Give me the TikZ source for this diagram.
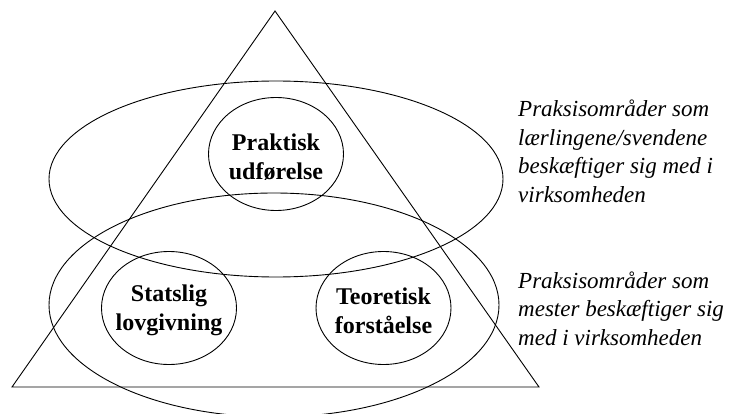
\documentclass[tikz,border=0pt]{standalone}
\usepackage{fontspec}
\setmainfont{Liberation Serif}
\usetikzlibrary{shapes.geometric}
\tikzset{
  outline/.style={draw=black, line width=0.9pt},
  bubble/.style={ellipse, draw=black, line width=0.9pt, inner sep=0pt,
    minimum width=135pt, minimum height=113pt},
  bubbletext/.style={align=center, inner sep=0pt,
    font=\fontsize{24}{29}\selectfont\bfseries},
  sidetext/.style={anchor=base west, align=left, inner sep=0pt,
    font=\fontsize{23}{28.5}\selectfont\itshape}
}
\begin{document}
\begin{tikzpicture}[x=1pt,y=-1pt]
\useasboundingbox (0,0) rectangle (733,414);
% triangle
\coordinate (apex) at (275,11);
\coordinate (bl) at (12,387);
\coordinate (br) at (539,387);
\draw[outline, line join=miter] (apex) -- (bl) -- (br) -- cycle;
% large ellipses
\draw[outline] (276,179) ellipse [x radius=227, y radius=98];
\begin{scope}
\clip (0,0) rectangle (733,414);
\draw[outline] (274,305) ellipse [x radius=225, y radius=112];
\end{scope}
% circles with labels
\node[bubble] (prak) at (276,154) {};
\node[bubble] (stat) at (169,308) {};
\node[bubble] (teor) at (383.5,308) {};
\node[bubbletext, yshift=-3.5pt] (prakt) at (prak.center) {Praktisk\\udførelse};
\node[bubbletext, yshift=-2.5pt] (statt) at (stat.center) {Statslig\\lovgivning};
\node[bubbletext, yshift=-2.5pt] (teort) at (teor.center) {Teoretisk\\forståelse};
% side texts (anchored at the baseline of the last line)
\node[sidetext] (lab1) at (518,202.5) {Praksisområder som\\lærlingene/svendene\\beskæftiger sig med i\\virksomheden};
\node[sidetext] (lab2) at (518,345) {Praksisområder som\\mester beskæftiger sig\\med i virksomheden};
\end{tikzpicture}
\end{document}
